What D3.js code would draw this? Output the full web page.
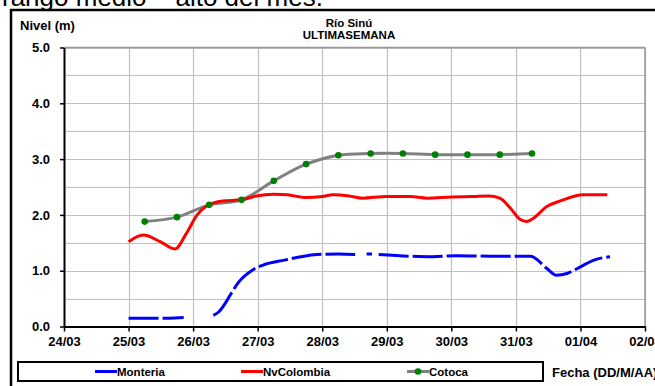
<!DOCTYPE html>
<html>
<head>
<meta charset="utf-8">
<script src="https://cdn.jsdelivr.net/npm/d3@7"></script>
<style>
  html, body { margin: 0; padding: 0; background: #fff; overflow: hidden; }
  svg { display: block; font-family: Arial, "Liberation Sans", sans-serif; }
</style>
</head>
<body>
<svg id="chart" width="655" height="386"></svg>
<script>
// ---------- data ----------
const xTickLabels = ["24/03","25/03","26/03","27/03","28/03","29/03","30/03","31/03","01/04","02/04"];
const yTickValues = [0, 1, 2, 3, 4, 5];

const monteriaTimes = ["25/03 00:00","25/03 08:00","25/03 15:00","25/03 20:30","26/03 00:00",
  "26/03 07:30","26/03 09:30","26/03 12:00","26/03 13:45","26/03 17:00","26/03 22:00",
  "27/03 02:00","27/03 10:00","27/03 16:00","27/03 22:00","28/03 06:00","28/03 12:15",
  "28/03 14:00","28/03 16:30","28/03 18:30","28/03 19:30","28/03 21:00","29/03 08:30",
  "29/03 17:00","30/03 02:00","30/03 18:00","31/03 04:30","31/03 05:30","31/03 11:30",
  "31/03 15:00","31/03 19:00","01/04 00:00","01/04 05:00","01/04 11:00"];
const monteriaValues = [0.15,0.15,0.15,0.16,null,
  0.20,0.26,0.42,0.56,0.80,1.01,
  1.10,1.19,1.25,1.29,1.30,1.29,
  null,1.30,1.30,null,1.29,1.26,
  1.25,1.27,1.26,1.26,1.26,1.04,
  0.92,0.95,1.07,1.19,1.25];

const nvColombiaTimes = ["25/03 00:00","25/03 05:30","25/03 11:45","25/03 17:15","25/03 21:30",
  "26/03 01:30","26/03 05:00","26/03 11:00","26/03 18:00","26/03 23:30","27/03 06:00",
  "27/03 11:00","27/03 18:00","28/03 00:00","28/03 04:00","28/03 10:00","28/03 15:00",
  "29/03 00:00","29/03 08:40","29/03 15:00","30/03 00:00","30/03 08:00","30/03 14:00",
  "30/03 18:00","30/03 22:00","31/03 01:30","31/03 04:00","31/03 06:30","31/03 11:30",
  "31/03 16:30","01/04 01:00","01/04 10:00"];
const nvColombiaValues = [1.52,1.64,1.52,1.39,1.67,
  2.00,2.16,2.25,2.27,2.34,2.37,
  2.36,2.31,2.33,2.36,2.34,2.30,
  2.33,2.33,2.30,2.32,2.33,2.34,
  2.30,2.12,1.92,1.88,1.94,2.15,
  2.25,2.36,2.36];

const cotocaTimes = ["25/03 06:00","25/03 18:00","26/03 06:00","26/03 18:00","27/03 06:00",
  "27/03 18:00","28/03 06:00","28/03 18:00","29/03 06:00","29/03 18:00","30/03 06:00",
  "30/03 18:00","31/03 06:00"];
const cotocaValues = [1.88,1.96,2.18,2.27,2.61,2.91,3.07,3.10,3.10,3.08,3.08,3.08,3.10];

const seriesNames = ["Monteria","NvColombia","Cotoca"];
const seriesColors = ["#0000ff","#ff0000","#808080"];

// ---------- chart ----------
const parse = d3.timeParse("%d/%m %H:%M");
const svg = d3.select("#chart");

// text from surrounding document (cut off at the top in the original)
svg.append("text").attr("x", 2).attr("y", 6)
  .attr("font-size", 26).attr("fill", "#000")
  .text("rango medio – alto del mes.");

// outer frame
svg.append("rect").attr("x", 11).attr("y", 10).attr("width", 700).attr("height", 400)
  .attr("fill", "#fff").attr("stroke", "#000").attr("stroke-width", 2.5);

const x = d3.scaleTime()
  .domain([parse("24/03 00:00"), parse("02/04 00:00")])
  .range([64, 645]);
const y = d3.scaleLinear().domain([0, 5]).range([326.5, 47.5]);

const dayTicks = xTickLabels.map((d, i) => d3.timeDay.offset(parse("24/03 00:00"), i));

// gridlines
const grid = svg.append("g").attr("stroke", "#c0c0c0").attr("stroke-width", 1.2);
grid.selectAll("line.h").data(d3.range(1, 11).map(i => i * 0.5)).join("line")
  .attr("x1", 64).attr("x2", 645)
  .attr("y1", d => Math.round(y(d)) + 0.5).attr("y2", d => Math.round(y(d)) + 0.5);
grid.selectAll("line.v").data(dayTicks.slice(1)).join("line")
  .attr("y1", y(5)).attr("y2", y(0))
  .attr("x1", d => Math.round(x(d)) + 0.5).attr("x2", d => Math.round(x(d)) + 0.5);
// plot border (top/right)
svg.append("line").attr("x1", 64).attr("x2", 645).attr("y1", y(5)).attr("y2", y(5))
  .attr("stroke", "#999").attr("stroke-width", 1.5);
svg.append("line").attr("x1", 645).attr("x2", 645).attr("y1", y(5)).attr("y2", y(0))
  .attr("stroke", "#999").attr("stroke-width", 1.5);

// axes
const yAxis = svg.append("g").attr("transform", "translate(64,0)")
  .call(d3.axisLeft(y).tickValues(yTickValues).tickFormat(d3.format(".1f"))
    .tickSize(4).tickSizeOuter(0).tickPadding(10));
const xAxis = svg.append("g").attr("transform", `translate(0,${y(0)})`)
  .call(d3.axisBottom(x).tickValues(dayTicks).tickFormat((d, i) => xTickLabels[i])
    .tickSize(5).tickSizeOuter(0).tickPadding(5));
[yAxis, xAxis].forEach(a => {
  a.select(".domain").attr("stroke", "#000").attr("stroke-width", 2);
  a.selectAll(".tick line").attr("stroke", "#000").attr("stroke-width", 1.5);
  a.selectAll(".tick text").attr("font-size", 13).attr("font-weight", "bold")
    .attr("font-family", "Arial, 'Liberation Sans', sans-serif").attr("fill", "#000");
});

// lines
function mk(times, values) { return times.map((t, i) => ({ t: parse(t), v: values[i] })); }
const line = d3.line().defined(d => d.v !== null).x(d => x(d.t)).y(d => y(d.v));

const mont = mk(monteriaTimes, monteriaValues);
const nvc = mk(nvColombiaTimes, nvColombiaValues);
const cot = mk(cotocaTimes, cotocaValues);

svg.append("path").datum(cot).attr("fill", "none").attr("stroke", seriesColors[2])
  .attr("stroke-width", 3).attr("d", line.curve(d3.curveCatmullRom.alpha(0.5)));
svg.append("path").datum(nvc).attr("fill", "none").attr("stroke", seriesColors[1])
  .attr("stroke-width", 3).attr("d", line.curve(d3.curveMonotoneX));
svg.append("path").datum(mont).attr("fill", "none").attr("stroke", seriesColors[0])
  .attr("stroke-width", 3).attr("stroke-dasharray", "30,4")
  .attr("d", line.curve(d3.curveMonotoneX));
svg.append("g").selectAll("circle").data(cot).join("circle")
  .attr("cx", d => x(d.t)).attr("cy", d => y(d.v)).attr("r", 3.3).attr("fill", "#008000");

// titles
svg.append("text").attr("x", 20).attr("y", 29.5).attr("font-size", 13).attr("font-weight", "bold")
  .text("Nivel (m)");
svg.append("text").attr("x", 349).attr("y", 27).attr("text-anchor", "middle")
  .attr("font-size", 11.5).attr("font-weight", "bold").text("Río Sinú");
svg.append("text").attr("x", 349).attr("y", 38.5).attr("text-anchor", "middle")
  .attr("font-size", 11.5).attr("font-weight", "bold").text("ULTIMASEMANA");

// legend
svg.append("rect").attr("x", 18).attr("y", 362).attr("width", 525).attr("height", 19)
  .attr("fill", "#fff").attr("stroke", "#000").attr("stroke-width", 2);
const legX = [95, 241, 407];
seriesNames.forEach((n, i) => {
  svg.append("line").attr("x1", legX[i]).attr("x2", legX[i] + 22)
    .attr("y1", 371.5).attr("y2", 371.5).attr("stroke", seriesColors[i]).attr("stroke-width", 3);
  if (n === "Cotoca") svg.append("circle").attr("cx", legX[i] + 11).attr("cy", 371.5)
    .attr("r", 3.3).attr("fill", "#008000");
  svg.append("text").attr("x", legX[i] + 22).attr("y", 375.5).attr("font-size", 11.5)
    .attr("font-weight", "bold").text(n);
});
svg.append("text").attr("x", 552).attr("y", 376.5).attr("font-size", 13).attr("font-weight", "bold")
  .text("Fecha (DD/M/AA)");
</script>
</body>
</html>
